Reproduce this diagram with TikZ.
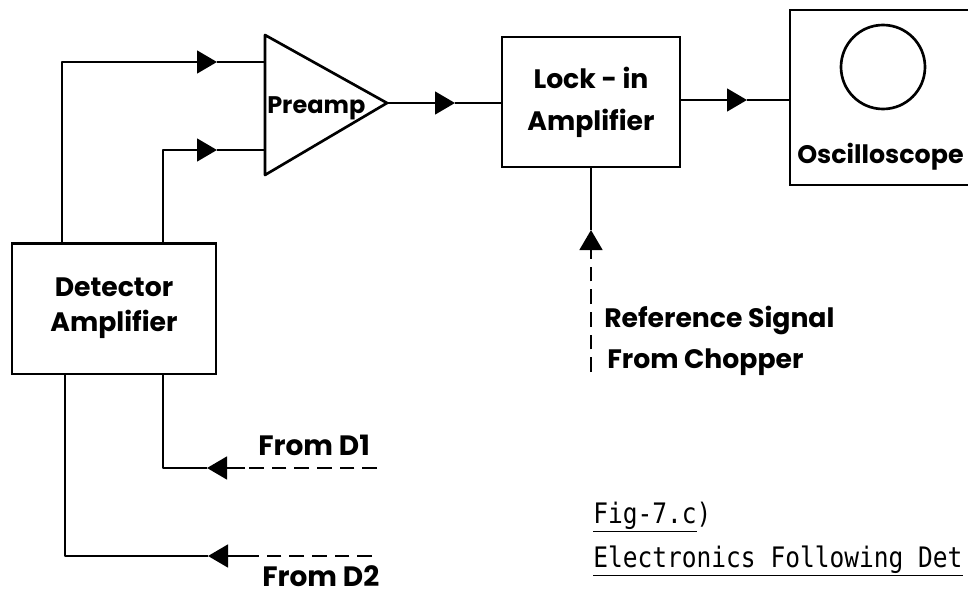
\documentclass[tikz,border=0pt]{standalone}
\usepackage{fontspec}
\setmainfont{Poppins}
\newfontfamily\typefont{DejaVu Sans Mono}
\usetikzlibrary{arrows.meta}

\begin{document}
\begin{tikzpicture}[
  x=0.75pt, y=-0.75pt,
  wire/.style={line width=2pt, line join=round},
  feed/.style={line width=1.6pt, dash pattern=on 11pt off 6pt},
  tip/.style={-{Triangle[length=15pt,width=17pt]}},
  block/.style={draw, line width=2pt, align=center, inner sep=0pt,
    font=\bfseries\fontsize{20}{26}\selectfont},
  note/.style={anchor=base west, inner sep=0pt, font=\bfseries\fontsize{20}{24}\selectfont},
  caption/.style={anchor=base west, inner sep=0pt, font=\typefont\fontsize{18.4}{20}\selectfont}
]
  \useasboundingbox (0,0) rectangle (968,596);
  \clip (0,0) rectangle (968,596);

  % blocks
  \node[block, minimum width=153pt, minimum height=98pt] (det) at (114,308.5) {Detector\\Amplifier};
  \node[block, minimum width=133.5pt, minimum height=97.5pt, font=\bfseries\fontsize{20}{31.5}\selectfont] (lock) at (591,102) {\raisebox{-3pt}{Lock - in}\\\raisebox{-3pt}{Amplifier}};
  \node[block, minimum width=157.5pt, minimum height=131.25pt] (scope) at (895,97.5) {};
  \node[draw, circle, line width=2pt, minimum size=63pt] (screen) at (883,67) {};
  \node[note, font=\bfseries\fontsize{19}{24}\selectfont] (scopetext) at (797,163) {Oscilloscope};

  % preamp
  \draw[wire] (265,35) coordinate (pa) -- (387,103) coordinate (pout) -- (265,175) coordinate (pb) -- cycle;
  \coordinate (in1) at (265,62);
  \coordinate (in2) at (265,150);
  \node[note, font=\bfseries\fontsize{18}{24}\selectfont] (preamp) at (267,113) {Preamp};

  % detector to preamp
  \coordinate (bend1) at (62,62);
  \coordinate (bend2) at (163,150);
  \coordinate (t1) at (217,62);
  \coordinate (t2) at (217,150);
  \draw[wire,tip] (det.north -| bend1) -- (bend1) -- (t1);
  \draw[wire] (t1) -- (in1);
  \draw[wire,tip] (det.north -| bend2) -- (bend2) -- (t2);
  \draw[wire] (t2) -- (in2);

  % preamp to lock-in to scope
  \coordinate (t3) at (455,103);
  \draw[wire,tip] (pout) -- (t3);
  \draw[wire] (t3) -- (lock.west |- t3);
  \coordinate (t4) at (747,100);
  \draw[wire,tip] (lock.east |- t4) -- (t4);
  \draw[wire] (t4) -- (scope.west |- t4);

  % reference signal
  \coordinate (rsrc) at (591,372);
  \coordinate (rbase) at (591,250);
  \coordinate (rtip) at (591,230);
  \draw[feed] (rsrc) -- (rbase);
  \draw[wire,tip] (rbase) -- (rtip);
  \draw[wire] (rtip) -- (lock.south);
  \node[note] (reftext) at (604,327) {Reference Signal};
  \node[note] (choptext) at (607,368) {From Chopper};

  % inputs from the detectors
  \coordinate (d1src) at (377,468);
  \coordinate (d1base) at (245,468);
  \coordinate (d1tip) at (207,468);
  \coordinate (d1bend) at (163,468);
  \draw[feed] (d1src) -- (d1base);
  \draw[wire,tip] (d1base) -- (d1tip);
  \draw[wire] (d1tip) -- (d1bend) -- (det.south -| d1bend);
  \node[note, font=\bfseries\fontsize{21}{24}\selectfont] (d1text) at (258,455) {From D1};

  \coordinate (d2src) at (372,556);
  \coordinate (d2base) at (245,556);
  \coordinate (d2tip) at (208,556);
  \coordinate (d2bend) at (65,556);
  \draw[feed] (d2src) -- (d2base);
  \draw[wire,tip] (d2base) -- (d2tip);
  \draw[wire] (d2tip) -- (d2bend) -- (det.south -| d2bend);
  \node[note, font=\bfseries\fontsize{21}{24}\selectfont] (d2text) at (262,586) {From D2};

  % caption
  \node[caption] (fig) at (593,523) {\scalebox{1}[1.15]{\underline{Fig-7.c})}};
  \node[caption] (title) at (593,567) {\scalebox{1}[1.15]{\underline{Electronics Following Det}}};
\end{tikzpicture}
\end{document}
